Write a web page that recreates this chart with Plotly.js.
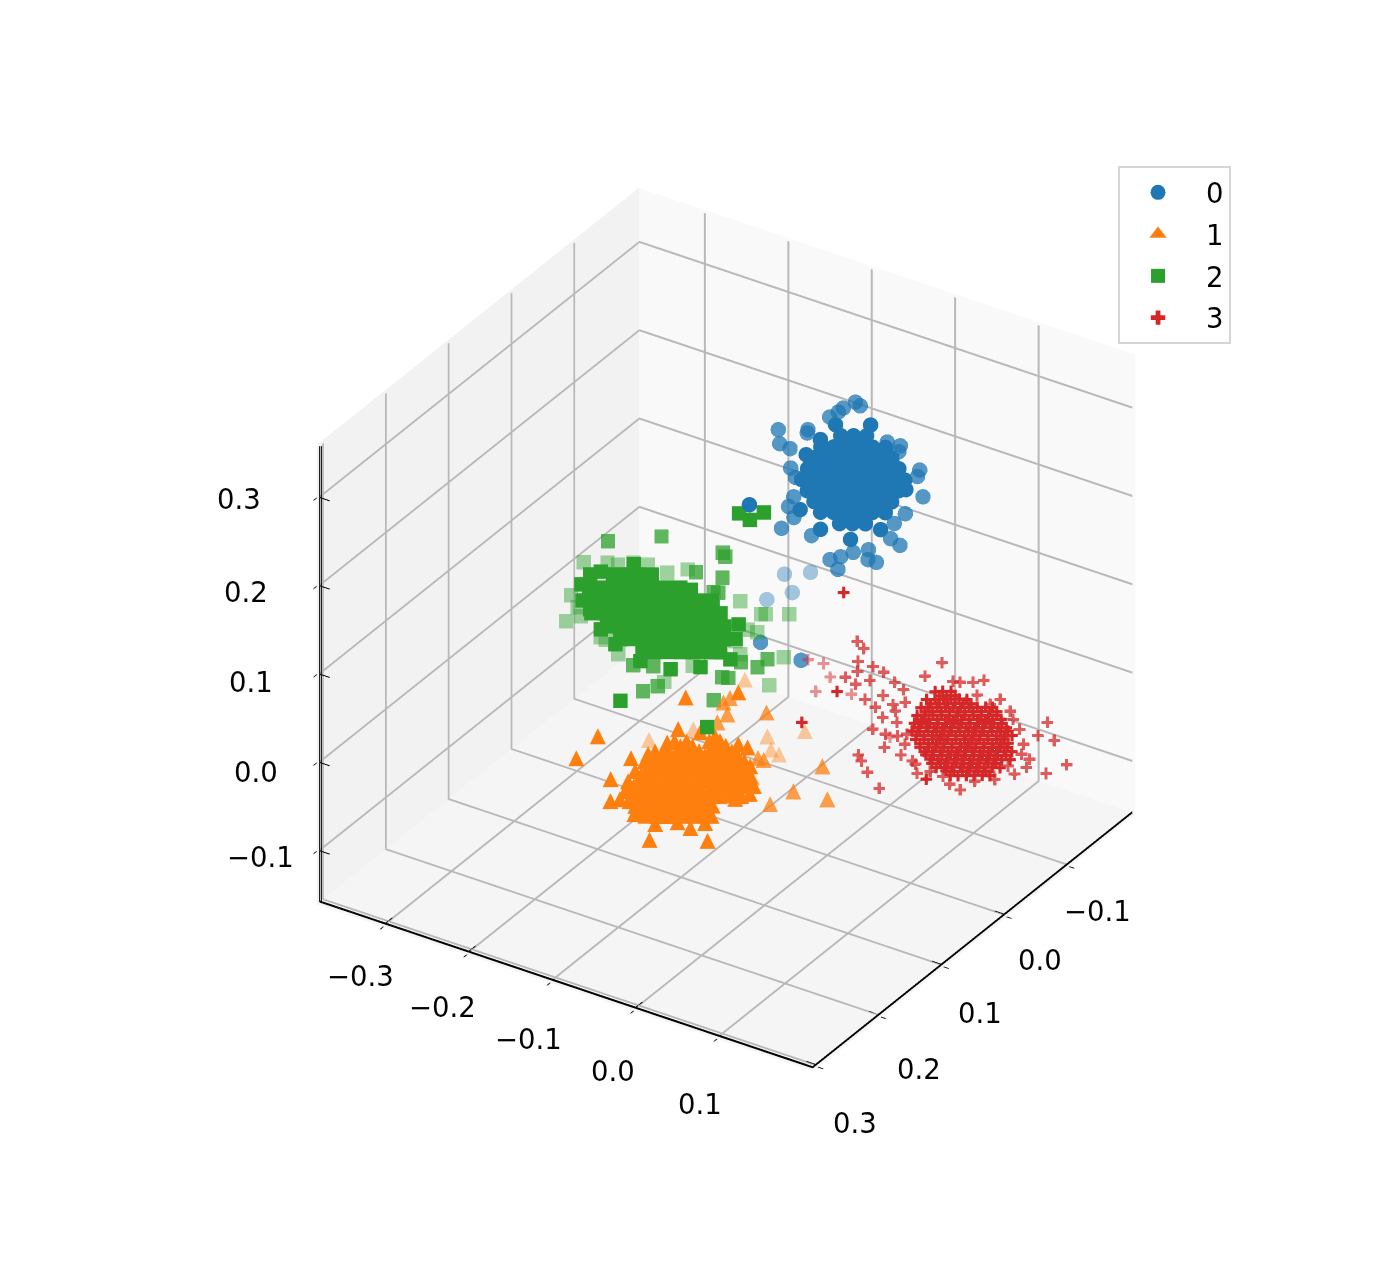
<!DOCTYPE html>
<html><head><meta charset="utf-8"><script src="https://cdn.plot.ly/plotly-3.0.1.min.js"></script>
<style>html,body{margin:0;padding:0;background:#fff}</style></head><body><div id="c" style="width:1388px;height:1272px"></div>
<script>
const xTicks=[-0.1,0,0.1,0.2,0.3],yTicks=[-0.3,-0.2,-0.1,0,0.1],zTicks=[-0.1,0,0.1,0.2,0.3];
const xr=[-0.205,0.308],yr=[-0.38,0.215],zr=[-0.16,0.36];
const names=['0','1','2','3'];
// series 0
const b1x=[-.009,-.015,-.021,-.027,-.033,-.039,-.045,-.051,-.057,.004,-.002,-.008,-.015,-.021,-.027,-.033,-.039,-.027,-.033,-.039,-.045,-.051,-.058,-.064,-.070,.016,.010,.004,-.002,-.008,-.014,-.020,-.046,-.052,-.058,-.064,-.070,-.076,-.082,.028,.022,.016,.010,.004,-.002,-.064,-.070,-.076,-.082,-.088,-.094,.035,.029,.023,-.089,-.095,-.101,.051,-.074,-.102,-.118,-.046,-.044,.034,.052,.024,.052];
const b1y=[-.038,-.027,-.016,-.005,.006,.017,.028,.039,.050,-.021,-.010,.001,.012,.023,.034,.045,.056,-.044,-.033,-.022,-.011,0,.011,.022,.033,-.004,.007,.018,.029,.040,.051,.062,-.050,-.039,-.028,-.017,-.006,.005,.016,.013,.024,.035,.046,.057,.068,-.056,-.045,-.034,-.023,-.012,-.001,.041,.052,.063,-.051,-.040,-.029,-.055,-.064,-.067,-.037,-.060,.061,-.007,.031,.082,.067];
const b1z=[.25,.25,.25,.25,.25,.25,.25,.25,.25,.25,.25,.25,.25,.25,.25,.25,.25,.25,.25,.25,.25,.25,.25,.25,.25,.25,.25,.25,.25,.25,.25,.25,.25,.25,.25,.25,.25,.25,.25,.25,.25,.25,.25,.25,.25,.25,.25,.25,.25,.25,.25,.25,.25,.25,.25,.25,.25,.25,.25,.25,.25,.25,.25,.25,.25,.25,.25];
const b2x=[-.143,-.140,-.129,-.121,-.110,-.068,-.082,-.077,-.049,-.047,-.102,-.103,-.094,-.078,-.068,-.042,-.020,-.009,.035,.019,.048,.069,.065,-.010,.009,.032,.037,.072,.072,.081,.090,.100,.069,.058,.239,.245];
const b2y=[-.074,-.066,-.078,-.078,-.080,-.110,-.085,-.082,-.094,-.080,-.005,.010,.015,.052,.057,.083,-.059,-.045,-.020,-.026,-.004,-.003,.030,.086,.087,.100,.115,.103,.113,.077,.071,.088,.083,.093,.100,.153];
const b2z=[.25,.25,.25,.25,.25,.25,.25,.25,.25,.25,.25,.25,.25,.25,.25,.25,.25,.25,.25,.25,.25,.25,.25,.25,.25,.25,.25,.25,.25,.25,.25,.25,.25,.25,.25,.25];
const b3x=[.132,.117,.154,.176],b3y=[.048,.068,.074,.060],b3z=[.25,.25,.25,.25];
// series 1
const o1x=[.084,.078,.067,.062,.107,.102,.097,.091,.086,.081,.076,.071,.126,.120,.115,.110,.105,.100,.095,.089,.084,.079,.144,.139,.134,.129,.124,.118,.113,.108,.103,.098,.093,.162,.156,.151,.146,.141,.136,.131,.125,.120,.115,.110,.105,.177,.172,.167,.161,.156,.151,.146,.141,.136,.130,.125,.189,.184,.178,.173,.168,.163,.158,.152,.198,.193,.188,.182,.177,.172,.167,.234,.208,.198,.184,.196,.167,.198,.113,.154,.017,-.015,
.088,.082,.071,.066,.111,.106,.101,.095,.090,.085,.080,.075,.130,.124,.119,.114,.109,.104,.099,.093,.088,.083,.148,.143,.138,.133,.128,.122,.117,.112,.107,.102,.097,.166,.160,.155,.150,.145,.140,.135,.129,.124,.119,.114,.109,.181,.176,.171,.165,.160,.155,.150,.145,.140,.134,.129,.193,.188,.182,.177,.172,.167,.162,.156,.202,.197,.192,.186,.181,.176,.171,
.065,.089,.058,.058,.058,.128,.114,.059,.191,.205,.209,.136,.122];
const o1y=[-.120,-.110,-.091,-.082,-.126,-.117,-.107,-.098,-.089,-.080,-.070,-.061,-.124,-.114,-.105,-.096,-.087,-.078,-.068,-.059,-.050,-.040,-.122,-.113,-.103,-.094,-.085,-.075,-.066,-.057,-.048,-.038,-.029,-.117,-.108,-.099,-.089,-.080,-.071,-.062,-.052,-.043,-.034,-.025,-.016,-.109,-.100,-.091,-.081,-.072,-.063,-.054,-.044,-.035,-.026,-.016,-.095,-.085,-.076,-.067,-.057,-.048,-.039,-.030,-.076,-.066,-.057,-.048,-.038,-.029,-.020,-.037,.013,-.015,-.008,-.032,-.134,-.111,-.190,-.185,-.157,-.118,
-.110,-.100,-.081,-.072,-.116,-.107,-.097,-.088,-.079,-.070,-.060,-.051,-.114,-.104,-.095,-.086,-.077,-.068,-.058,-.049,-.040,-.030,-.112,-.103,-.093,-.084,-.075,-.065,-.056,-.047,-.038,-.028,-.019,-.107,-.098,-.089,-.079,-.070,-.061,-.052,-.042,-.033,-.024,-.015,-.006,-.099,-.090,-.081,-.071,-.062,-.053,-.044,-.034,-.025,-.016,-.006,-.085,-.075,-.066,-.057,-.047,-.038,-.029,-.020,-.066,-.056,-.047,-.038,-.028,-.019,-.010,
-.130,-.125,-.091,-.063,-.052,-.139,-.129,-.108,-.105,-.077,-.049,-.008,-.001];
const o1z=[-.02,-.02,-.02,-.02,-.02,-.02,-.02,-.02,-.02,-.02,-.02,-.02,-.02,-.02,-.02,-.02,-.02,-.02,-.02,-.02,-.02,-.02,-.02,-.02,-.02,-.02,-.02,-.02,-.02,-.02,-.02,-.02,-.02,-.02,-.02,-.02,-.02,-.02,-.02,-.02,-.02,-.02,-.02,-.02,-.02,-.02,-.02,-.02,-.02,-.02,-.02,-.02,-.02,-.02,-.02,-.02,-.02,-.02,-.02,-.02,-.02,-.02,-.02,-.02,-.02,-.02,-.02,-.02,-.02,-.02,-.02,-.02,-.02,-.02,-.02,-.02,-.02,-.02,-.02,-.02,-.02,-.02,
-.02,-.02,-.02,-.02,-.02,-.02,-.02,-.02,-.02,-.02,-.02,-.02,-.02,-.02,-.02,-.02,-.02,-.02,-.02,-.02,-.02,-.02,-.02,-.02,-.02,-.02,-.02,-.02,-.02,-.02,-.02,-.02,-.02,-.02,-.02,-.02,-.02,-.02,-.02,-.02,-.02,-.02,-.02,-.02,-.02,-.02,-.02,-.02,-.02,-.02,-.02,-.02,-.02,-.02,-.02,-.02,-.02,-.02,-.02,-.02,-.02,-.02,-.02,-.02,-.02,-.02,-.02,-.02,-.02,-.02,-.02,
-.02,-.02,-.02,-.02,-.02,-.02,-.02,-.02,-.02,-.02,-.02,-.02,-.02];
const o2x=[0,.021,.006,-.003,.037,.098,.068,.068,.049,.098,.093,.127];
const o2y=[-.073,-.104,-.120,-.119,-.104,-.017,-.032,-.025,.031,.033,.070,.027];
const o2z=[-.02,-.02,-.02,-.02,-.02,-.02,-.02,-.02,-.02,-.02,-.02,-.02];
const o3x=[.094,.058,.033,.050,.053,.008,-.036],o3y=[-.143,-.117,-.047,-.030,-.018,-.021,-.126],o3z=[-.02,-.02,-.02,-.02,-.02,-.02,-.02];
// series 2
const g1x=[.089,.083,.077,.071,.119,.113,.107,.100,.094,.088,.082,.076,.140,.134,.128,.122,.116,.110,.103,.097,.091,.085,.079,.154,.148,.142,.136,.130,.124,.118,.111,.105,.099,.093,.165,.159,.153,.147,.140,.134,.128,.122,.116,.110,.177,.170,.164,.158,.152,.146,.140,.134,.128,.184,.178,.172,.166,.160,.154,.148,.263,-.056,-.052,-.069,.259,.118,.100,.091,.065,.074,.122,.100,.153,.178,.195,.198,.186,.172,.149];
const g1y=[-.190,-.179,-.168,-.157,-.196,-.185,-.174,-.163,-.152,-.141,-.130,-.119,-.188,-.177,-.166,-.155,-.144,-.133,-.122,-.111,-.100,-.089,-.078,-.167,-.156,-.145,-.134,-.123,-.112,-.102,-.091,-.080,-.069,-.058,-.140,-.129,-.118,-.107,-.096,-.085,-.074,-.063,-.052,-.041,-.115,-.104,-.093,-.082,-.071,-.060,-.049,-.038,-.027,-.083,-.072,-.061,-.050,-.039,-.028,-.017,-.050,-.148,-.132,-.128,.051,-.206,-.209,-.203,-.183,-.108,-.018,-.031,-.001,-.018,-.041,-.075,-.114,-.142,-.172];
const g1z=[.15,.15,.15,.15,.15,.15,.15,.15,.15,.15,.15,.15,.15,.15,.15,.15,.15,.15,.15,.15,.15,.15,.15,.15,.15,.15,.15,.15,.15,.15,.15,.15,.15,.15,.15,.15,.15,.15,.15,.15,.15,.15,.15,.15,.15,.15,.15,.15,.15,.15,.15,.15,.15,.15,.15,.15,.15,.15,.15,.15,.15,.15,.15,.15,.15,.15,.15,.15,.15,.15,.15,.15,.15,.15,.15,.15,.15,.15,.15];
const g2x=[.013,.007,.011,.047,.042,.067,.065,.207,.239,.225,.182,.180,.152,.135,.151,.199,.218,.045];
const g2y=[-.189,-.120,-.114,-.122,-.094,-.086,-.082,-.077,-.041,-.034,.011,.017,.011,.030,.030,-.059,.028,-.229];
const g2z=[.15,.15,.15,.15,.15,.15,.15,.15,.15,.15,.15,.15,.15,.15,.15,.15,.15,.15];
const g3x=[.177,.138,.152,.086,.075,.073,.059,.063,.061,.047,.067,.075,.073,.062,.184,.183,.199,.180,.125,.171,.216,.141,.103,.163,.125,.102];
const g3y=[-.180,-.203,-.185,-.227,-.207,-.196,-.171,-.185,-.146,-.132,-.054,-.023,-.019,.001,-.127,-.134,-.101,-.026,.042,.059,-.033,.002,-.018,-.173,-.016,-.007];
const g3z=[.15,.15,.15,.15,.15,.15,.15,.15,.15,.15,.15,.15,.15,.15,.15,.15,.15,.15,.15,.15,.15,.15,.15,.15,.15,.15];
// series 3
const r1x=[-.084,-.088,-.092,-.069,-.073,-.077,-.081,-.085,-.088,-.055,-.059,-.063,-.067,-.070,-.074,-.078,-.082,-.086,-.089,-.042,-.046,-.050,-.054,-.057,-.061,-.065,-.069,-.072,-.076,-.080,-.030,-.034,-.037,-.041,-.045,-.049,-.052,-.056,-.060,-.064,-.067,-.071,-.018,-.021,-.025,-.029,-.033,-.036,-.040,-.044,-.048,-.051,-.055,-.059,-.063,-.008,-.012,-.016,-.020,-.023,-.027,-.031,-.035,-.038,-.042,-.046,-.050,.001,-.003,-.007,-.010,-.014,-.018,-.022,-.025,-.029,-.033,-.037,-.040,.009,.006,.002,-.002,-.006,-.009,-.013,-.017,-.021,-.024,-.028,.018,.014,.010,.006,.003,-.001,-.005,-.009,-.012,.022,.019,.015,.011,.007,.004,.022,-.180,-.038,.043];
const r1y=[.066,.072,.079,.067,.074,.081,.087,.094,.101,.071,.077,.084,.091,.098,.104,.111,.118,.125,.131,.076,.082,.089,.096,.103,.110,.116,.123,.130,.136,.143,.082,.088,.095,.102,.109,.115,.122,.129,.136,.142,.149,.156,.088,.095,.102,.109,.115,.122,.129,.136,.142,.149,.156,.163,.169,.100,.107,.114,.120,.127,.134,.141,.147,.154,.161,.168,.174,.112,.119,.125,.132,.139,.146,.152,.159,.166,.173,.179,.186,.125,.132,.139,.146,.152,.159,.166,.173,.179,.186,.193,.139,.146,.152,.159,.166,.173,.179,.186,.193,.159,.166,.173,.179,.186,.193,-.014,-.116,-.017,.151];
const r1z=[0,0,0,0,0,0,0,0,0,0,0,0,0,0,0,0,0,0,0,0,0,0,0,0,0,0,0,0,0,0,0,0,0,0,0,0,0,0,0,0,0,0,0,0,0,0,0,0,0,0,0,0,0,0,0,0,0,0,0,0,0,0,0,0,0,0,0,0,0,0,0,0,0,0,0,0,0,0,0,0,0,0,0,0,0,0,0,0,0,0,0,0,0,0,0,0,0,0,0,0,0,0,0,0,0,0,0,0,0];
const r4x=[-.080,-.084,-.088,-.065,-.069,-.073,-.077,-.081,-.084,-.051,-.055,-.059,-.063,-.066,-.070,-.074,-.078,-.082,-.085,-.038,-.042,-.046,-.050,-.053,-.057,-.061,-.065,-.068,-.072,-.076,-.026,-.030,-.033,-.037,-.041,-.045,-.048,-.052,-.056,-.060,-.063,-.067,-.014,-.017,-.021,-.025,-.029,-.032,-.036,-.040,-.044,-.047,-.051,-.055,-.059,-.004,-.008,-.012,-.016,-.019,-.023,-.027,-.031,-.034,-.038,-.042,-.046,.005,.001,-.003,-.006,-.010,-.014,-.018,-.021,-.025,-.029,-.033,-.036,.013,.010,.006,.002,-.002,-.005,-.009,-.013,-.017,-.020,-.024,.022,.018,.014,.010,.007,.003,-.001,-.005,-.008,.026,.023,.019,.015,.011,.008];
const r4y=[.074,.080,.087,.075,.082,.089,.095,.102,.109,.079,.085,.092,.099,.106,.112,.119,.126,.133,.139,.084,.090,.097,.104,.111,.118,.124,.131,.138,.144,.151,.090,.096,.103,.110,.117,.123,.130,.137,.144,.150,.157,.164,.096,.103,.110,.117,.123,.130,.137,.144,.150,.157,.164,.171,.177,.108,.115,.122,.128,.135,.142,.149,.155,.162,.169,.176,.182,.120,.127,.133,.140,.147,.154,.160,.167,.174,.181,.187,.194,.133,.140,.147,.154,.160,.167,.174,.181,.187,.194,.201,.147,.154,.160,.167,.174,.181,.187,.194,.201,.167,.174,.181,.187,.194,.201];
const r4z=[0,0,0,0,0,0,0,0,0,0,0,0,0,0,0,0,0,0,0,0,0,0,0,0,0,0,0,0,0,0,0,0,0,0,0,0,0,0,0,0,0,0,0,0,0,0,0,0,0,0,0,0,0,0,0,0,0,0,0,0,0,0,0,0,0,0,0,0,0,0,0,0,0,0,0,0,0,0,0,0,0,0,0,0,0,0,0,0,0,0,0,0,0,0,0,0,0,0,0,0,0,0,0,0,0];
const r2x=[-.118,-.111,-.090,-.076,-.090,-.087,-.062,-.057,-.069,-.040,-.034,-.054,-.078,-.072,-.101,-.128,-.107,-.109,-.115,-.123,-.099,-.092,-.082,-.094,-.071,-.109,-.118,-.096,-.071,-.052,-.058,.042,.039,.024,.021,.018,-.023,-.002,.041,.048,.061,.078,-.023,-.055,-.046,-.004,-.011,.031,.003,-.014,-.071,-.037,-.043,-.001,-.038,.004,.027,.030,.039,.023,.011,-.104,-.092];
const r2y=[-.053,-.040,-.031,-.021,-.013,.002,-.025,-.009,-.001,.015,.032,.026,.022,.037,.041,.041,.070,.077,.088,.095,.105,.126,.161,.193,.199,.190,.198,.190,.189,.196,.195,.191,.137,.120,.104,.082,.049,.053,.068,.077,.094,.121,.066,.052,.044,.081,.087,.162,.197,.206,.177,.205,.192,.069,.053,.096,.126,.146,.176,.194,.209,.129,.150];
const r2z=[0,0,0,0,0,0,0,0,0,0,0,0,0,0,0,0,0,0,0,0,0,0,0,0,0,-.03,-.06,-.06,-.03,0,-.03,0,0,0,0,0,0,0,0,0,0,0,0,0,0,0,0,0,0,0,0,0,-.03,0,0,0,0,0,0,0,0,0,0];
const r3x=[-.055,-.028,-.071,-.069,-.041,.001],r3y=[-.038,-.035,-.058,-.075,-.002,.076],r3z=[0,0,0,0,0,0];

const lab=v=>v.toFixed(1).replace('-','\u2212');
const font={family:'DejaVu Sans',size:27.5,color:'#000'};
const xShift=[[28,44],[34,43],[36,46],[38,52],[37,56]],yShift=[[-23,49],[-24,52],[-22,56],[-21,60],[-17,65]],zShift=[[-56,6],[-61,9],[-66,7],[-71,6],[-78,1]];
const ann=(x,y,z,v,s)=>({x,y,z,text:lab(v),showarrow:false,xanchor:'center',yanchor:'middle',xshift:s[0],yshift:-s[1],font});
const anns=[...xTicks.map((v,i)=>ann(v,yr[1],zr[0],v,xShift[i])),...yTicks.map((v,i)=>ann(xr[1],v,zr[0],v,yShift[i])),...zTicks.map((v,i)=>ann(xr[1],yr[0],v,v,zShift[i]))];
const mk=(x,y,z,sym,size,color,op)=>({type:'scatter3d',mode:'markers',x,y,z,opacity:op,showlegend:false,hoverinfo:'skip',marker:{symbol:sym,size,color,line:{width:0}}});
const tx=(x,y,z,g,size,color,op)=>({type:'scatter3d',mode:'text',x,y,z,opacity:op,showlegend:false,hoverinfo:'skip',text:x.map(()=>g),textposition:'middle center',textfont:{family:'DejaVu Sans',size,color}});
const C=['#1f77b4','#ff7f0e','#2ca02c','#d62728'];
// grid lines and axis frame, built from the tick arrays and axis ranges; each is drawn twice, about a pixel apart, to read as a 2px stroke
const seg=(o,a,b)=>{o.x.push(a[0],b[0],null);o.y.push(a[1],b[1],null);o.z.push(a[2],b[2],null);};
const grid={x:[],y:[],z:[]},frame={x:[],y:[],z:[]};
const inX=0.002,inY=0.002,inZ=0.002,d=0.0012;
const x0=xr[0]+inX,y0=yr[0]+inY,z0=zr[0]+inZ,x1=xr[1]-inX,y1=yr[1]-inY,z1=zr[1]-inZ;
xTicks.forEach(v=>{[0,d].forEach(e=>{seg(grid,[v+e,y0,z0],[v+e,y1,z0]);seg(grid,[v+e,y0,z0],[v+e,y0,z1]);});seg(frame,[v,y1-0.012,z0],[v,y1,z0]);});
yTicks.forEach(v=>{[0,d].forEach(e=>{seg(grid,[x0,v+e,z0],[x1,v+e,z0]);seg(grid,[x0,v+e,z0],[x0,v+e,z1]);});seg(frame,[x1-0.012,v,z0],[x1,v,z0]);});
zTicks.forEach(v=>{[0,d].forEach(e=>{seg(grid,[x0,y0,v+e],[x1,y0,v+e]);seg(grid,[x0,y0,v+e],[x0,y1,v+e]);});seg(frame,[x1,y0+0.012,v],[x1,y0,v]);});
[0,d].forEach(e=>{seg(frame,[x1,y0,z0+e],[x1,y1,z0+e]);seg(frame,[x0,y1,z0+e],[x1,y1,z0+e]);seg(frame,[x1-e,y0+e,z0],[x1-e,y0+e,z1]);});
const ln=(o,color,width)=>({type:'scatter3d',mode:'lines',x:o.x,y:o.y,z:o.z,connectgaps:false,showlegend:false,hoverinfo:'skip',line:{color,width}});
const data=[ln(grid,'#b8b8b8',2),ln(frame,'#000000',2),
mk(b1x,b1y,b1z,'circle',9,C[0],1),mk(b2x,b2y,b2z,'circle',9,C[0],.75),mk(b3x,b3y,b3z,'circle',9,C[0],.4),
mk(g1x,g1y,g1z,'square',7.5,C[2],1),mk(g2x,g2y,g2z,'square',7.5,C[2],.75),mk(g3x,g3y,g3z,'square',7.5,C[2],.45),
tx(o1x,o1y,o1z,'▲',21,C[1],1),tx(o2x,o2y,o2z,'▲',21,C[1],.75),tx(o3x,o3y,o3z,'▲',21,C[1],.4),
tx(r1x,r1y,r1z,'✚',16,C[3],1),tx(r4x,r4y,r4z,'✚',16,C[3],1),tx(r2x,r2y,r2z,'✚',16,C[3],.75),tx(r3x,r3y,r3z,'✚',16,C[3],.5),
...names.map((n,i)=>({type:'scatter',x:[null],y:[null],name:n,mode:'markers',legendgroup:n,marker:{symbol:['circle','triangle-up','square','cross'][i],size:[15,15,14,12][i],color:C[i]}}))
];
const ax=(r,t,bg)=>({range:r,tickvals:t,showticklabels:false,showgrid:false,showbackground:true,backgroundcolor:bg,showline:false,ticks:'outside',ticklen:6,tickcolor:'#000',tickwidth:2,zeroline:false,showspikes:false,title:{text:''}});
const layout={width:1388,height:1272,margin:{l:0,r:0,t:0,b:0},paper_bgcolor:'#fff',
xaxis:{visible:false},yaxis:{visible:false},
legend:{x:0.8055,y:0.8695,xanchor:'left',yanchor:'top',bgcolor:'rgba(255,255,255,0.8)',bordercolor:'#d6d6d6',borderwidth:2,font,itemwidth:86,indentation:-10,tracegroupgap:3,entrywidth:29},
scene:{domain:{x:[0.046,1],y:[0.01,1]},aspectmode:'manual',aspectratio:{x:0.94,y:0.94,z:0.853},annotations:anns,
xaxis:ax(xr,xTicks,'#f9f9f9'),yaxis:ax(yr,yTicks,'#f2f2f2'),zaxis:ax(zr,zTicks,'#f5f5f5'),
camera:{projection:{type:'orthographic'},up:{x:0,y:0,z:1},center:{x:0,y:0,z:0},eye:{x:1.511,y:0.981,z:1.091}}}};
Plotly.newPlot('c',data,layout,{displayModeBar:false});
</script></body></html>
